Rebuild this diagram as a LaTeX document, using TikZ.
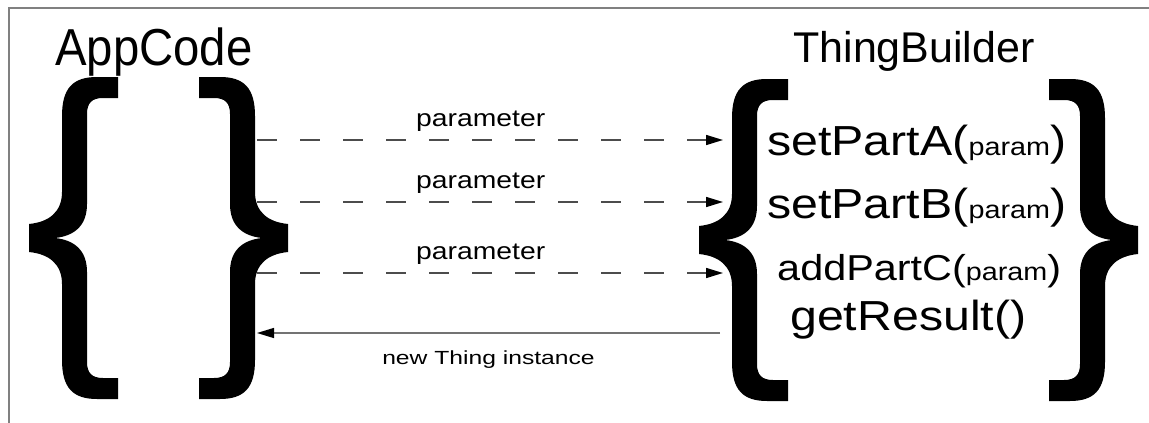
\documentclass[tikz,border=0pt]{standalone}
\usepackage{fontspec}
\setmainfont{Liberation Sans}
\usetikzlibrary{arrows.meta}

\newcommand{\paramtext}{{\fontsize{25}{25}\selectfont param}}

\begin{document}
\begin{tikzpicture}[x=1pt, y=-1pt,
    title/.style={anchor=base, inner sep=0pt, font=\fontsize{43}{43}\selectfont},
    method/.style={anchor=base west, inner sep=0pt, xscale=1.15, font=\fontsize{42}{42}\selectfont},
    msg/.style={inner sep=1pt, xscale=1.18, font=\fontsize{24}{24}\selectfont},
    call/.style={draw=black!70, line width=1.5pt, dash pattern=on 20pt off 23pt, -{Triangle[length=17pt,width=10pt,color=black]}},
    reply/.style={draw=black!55, line width=1.3pt, -{Triangle[length=17pt,width=10pt,color=black]}},
    brace/.pic={
      \fill (0,-14) .. controls (20,-16) and (33,-26) .. (33,-46)
        -- (33,-122) .. controls (33,-150) and (44,-161) .. (68,-161)
        -- (89,-161) -- (89,-140) -- (74,-140) .. controls (63,-140) and (58,-135) .. (58,-124)
        -- (58,-34) .. controls (58,-12) and (45,-2) .. (26,0)
        .. controls (45,2) and (58,12) .. (58,34)
        -- (58,124) .. controls (58,135) and (63,140) .. (74,140)
        -- (89,140) -- (89,161) -- (68,161) .. controls (44,161) and (33,150) .. (33,122)
        -- (33,46) .. controls (33,26) and (20,16) .. (0,14) -- cycle;
    }
  ]
          \useasboundingbox (0,0) rectangle (1149,423);
          \draw[black!50, line width=1.5pt] (9,423) -- (9,8) -- (1149,8);

          \node[title, xscale=0.91, font=\fontsize{52}{52}\selectfont] (app) at (154,65) {AppCode};
          \node[title] (builder) at (914,62) {ThingBuilder};

          \pic at (29,238) {brace};
          \pic[xscale=-1] at (288,238) {brace};
          \pic at (699,240) {brace};
          \pic[xscale=-1] at (1138,240) {brace};

          \node[method] (partA) at (767,155) {setPartA(\paramtext)};
          \node[method] (partB) at (767,218) {setPartB(\paramtext)};
          \node[method, font=\fontsize{36}{36}\selectfont] (partC) at (777,280) {addPartC(\paramtext)};
          \node[method] (result) at (790,330) {getResult()};

          \coordinate (outA) at (257,140);
          \coordinate (inA) at (723,140);
          \coordinate (outB) at (257,202);
          \coordinate (inB) at (723,202);
          \coordinate (outC) at (257,273);
          \coordinate (inC) at (723,273);
          \coordinate (back) at (720,333);
          \coordinate (home) at (257,333);

          \draw[call] (outA) -- (inA) node[pos=.48, above=7pt, msg] {parameter};
          \draw[call] (outB) -- (inB) node[pos=.48, above=7pt, msg] {parameter};
          \draw[call] (outC) -- (inC) node[pos=.48, above=7pt, msg] {parameter};

          \draw[reply] (back) -- (home) node[midway, below=16pt, msg, xscale=1.1, font=\fontsize{19}{19}\selectfont] {new Thing instance};
        \end{tikzpicture}
\end{document}
